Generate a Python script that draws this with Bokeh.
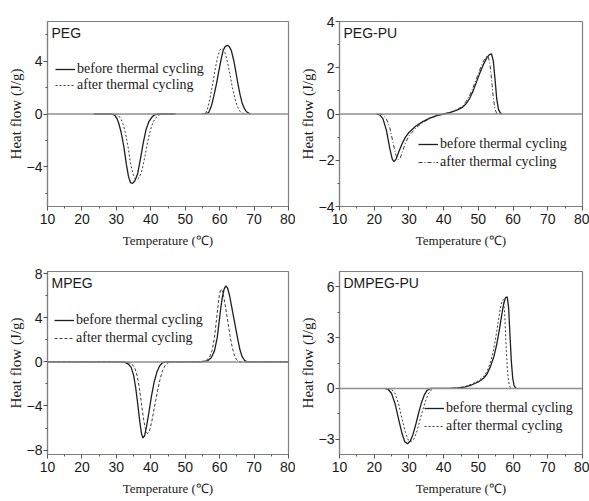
from bokeh.plotting import figure
from bokeh.layouts import column, row
from bokeh.models import (Range1d, SingleIntervalTicker, Span, Label, Legend, LegendItem)
from bokeh.embed import file_html
from bokeh.resources import INLINE

nan = float("nan")

# ---------------- data ----------------
panel_names = ["PEG", "PEG-PU", "MPEG", "DMPEG-PU"]
series_labels = ["before thermal cycling", "after thermal cycling"]
x_label = "Temperature (\u2103)"
y_label = "Heat flow (J/g)"

peg_before_T = [23.5, 28.5, 29.5, 30.2, 30.8, 31.4, 32.2, 32.9, 33.5, 34.1, 34.7, 35.4, 36.2, 37.0, 37.8,
                38.6, 39.4, 40.3, 41.0, 41.8, 47.0, nan,
                55.5, 56.8, 57.6, 58.3, 59.1, 59.8, 60.4, 61.0, 61.6, 62.2, 62.8, 63.4, 64.1, 64.7,
                65.3, 65.9, 66.5, 67.2, 67.8, 68.9]
peg_before_H = [0, 0, -0.08, -0.35, -0.8, -1.4, -2.5, -3.8, -4.7, -5.2, -5.25, -5.05, -4.5, -3.4, -2.2,
                -1.2, -0.6, -0.25, -0.08, 0, 0, nan,
                0, 0.1, 0.6, 1.35, 2.3, 3.3, 4.1, 4.8, 5.1, 5.2, 5.1, 4.8, 4.05, 3.2,
                2.3, 1.5, 0.86, 0.4, 0.17, 0]
peg_after_T = [24.0, 29.5, 30.5, 31.3, 32.0, 32.6, 33.4, 34.1, 34.8, 35.4, 36.0, 36.7, 37.5, 38.3, 39.1,
               39.9, 40.7, 41.6, 42.4, 43.2, 47.5, nan,
               54.8, 56.0, 56.6, 57.2, 58.0, 58.7, 59.4, 60.0, 60.5, 61.0, 61.6, 62.3, 63.0, 63.7,
               64.4, 65.1, 65.9, 66.7, 67.6]
peg_after_H = [0, 0, -0.08, -0.35, -0.8, -1.4, -2.5, -3.7, -4.5, -4.9, -4.95, -4.8, -4.2, -3.2, -2.1,
               -1.2, -0.6, -0.25, -0.07, 0, 0, nan,
               0, 0.1, 0.5, 1.2, 2.3, 3.4, 4.3, 4.8, 4.95, 4.9, 4.6, 3.9, 3.0, 2.0,
               1.2, 0.6, 0.2, 0.05, 0]

pegpu_before_T = [20.7, 21.5, 22.5, 23.5, 24.5, 25.2, 25.7, 26.3, 27.0, 28.0, 29.0, 30.0, 32.0, 34.0, 36.0,
                  38.0, 40.0, 42.0, 44.0, 45.5, 46.5, 47.5, 48.5, 49.5, 50.5, 51.5, 52.5, 53.2, 53.8,
                  54.3, 54.8, 55.3, 55.8, 56.3, 56.8]
pegpu_before_H = [0, -0.03, -0.2, -0.7, -1.5, -1.95, -2.06, -1.95, -1.67, -1.3, -1.0, -0.8, -0.52, -0.33, -0.18,
                  -0.07, 0.0, 0.07, 0.18, 0.3, 0.45, 0.68, 1.0, 1.4, 1.8, 2.15, 2.45, 2.57, 2.6,
                  2.3, 1.5, 0.65, 0.2, 0.05, 0]
pegpu_after_T = [21.5, 22.5, 23.5, 24.5, 25.5, 26.3, 26.9, 27.5, 28.2, 29.0, 30.0, 32.0, 34.0, 36.0, 38.0,
                 40.0, 42.0, 44.0, 45.5, 46.5, 47.5, 48.5, 49.5, 50.5, 51.5, 52.3, 52.8, 53.3, 53.8,
                 54.3, 54.8, 55.3, 55.8]
pegpu_after_H = [0, -0.03, -0.2, -0.6, -1.3, -1.8, -1.97, -1.9, -1.6, -1.25, -0.95, -0.6, -0.37, -0.2, -0.08,
                 0.0, 0.08, 0.2, 0.35, 0.55, 0.82, 1.15, 1.55, 1.95, 2.3, 2.48, 2.5, 2.2, 1.5,
                 0.7, 0.2, 0.03, 0]

mpeg_before_T = [10.0, 31.0, 32.5, 33.5, 34.3, 35.0, 35.6, 36.2, 36.8, 37.3, 37.7, 38.2, 38.8, 39.5, 40.2,
                 41.0, 41.8, 42.6, 43.4, 44.3,
                 54.5, 56.5, 57.5, 58.5, 59.3, 59.8, 60.3, 60.8, 61.3, 61.8, 62.3, 62.9, 63.5, 64.1,
                 64.7, 65.3, 65.9, 66.5, 67.2, 68.0, 80.0]
mpeg_before_H = [0, 0, -0.05, -0.2, -0.5, -1.2, -2.3, -3.8, -5.4, -6.5, -6.9, -6.7, -5.8, -4.5, -3.1,
                 -1.8, -0.9, -0.35, -0.08, 0,
                 0, 0.1, 0.35, 1.0, 2.2, 3.5, 4.8, 5.9, 6.6, 6.9, 6.7, 6.0, 5.0, 4.0,
                 3.0, 2.0, 1.1, 0.5, 0.15, 0, 0]
mpeg_after_T = [10.0, 32.0, 33.5, 34.5, 35.3, 36.0, 36.7, 37.3, 37.9, 38.5, 39.0, 39.6, 40.3, 41.0, 41.8,
                42.6, 43.4, 44.2, 45.0, 45.8,
                54.0, 56.0, 57.0, 57.8, 58.5, 59.0, 59.5, 59.9, 60.3, 60.7, 61.2, 61.8, 62.4, 63.0,
                63.6, 64.2, 64.8, 65.5, 66.2, 80.0]
mpeg_after_H = [0, 0, -0.05, -0.2, -0.5, -1.2, -2.4, -3.8, -5.2, -6.2, -6.5, -6.3, -5.4, -4.2, -2.9,
                -1.7, -0.8, -0.3, -0.08, 0,
                0, 0.1, 0.4, 1.0, 2.2, 3.6, 5.0, 6.0, 6.6, 6.5, 5.9, 4.8, 3.6, 2.4,
                1.4, 0.7, 0.25, 0.05, 0, 0]

dmpeg_before_T = [23.0, 24.0, 25.0, 26.0, 27.0, 28.0, 28.8, 29.6, 30.4, 31.2, 32.0, 32.8, 33.6, 34.4, 35.2,
                  36.2, 41.5, 44.0, 46.0, 48.0, 50.0, 51.5, 52.5, 53.5, 54.5, 55.3, 56.0, 56.7, 57.3,
                  57.8, 58.3, 58.7, 59.1, 59.5, 59.9, 60.3, 60.9]
dmpeg_before_H = [0, -0.05, -0.3, -0.9, -1.8, -2.65, -3.15, -3.27, -3.1, -2.7, -2.1, -1.45, -0.85, -0.4, -0.12,
                  0, 0, 0.03, 0.08, 0.2, 0.38, 0.6, 0.85, 1.3, 1.9, 2.6, 3.4, 4.3, 5.0,
                  5.35, 5.4, 4.8, 3.2, 1.6, 0.6, 0.15, 0]
dmpeg_after_T = [24.0, 25.0, 26.0, 27.0, 28.0, 29.0, 29.8, 30.6, 31.4, 32.2, 33.0, 33.8, 34.6, 35.4, 36.2,
                 37.2, 42.0, 44.0, 46.0, 48.0, 50.0, 51.5, 52.5, 53.5, 54.3, 55.0, 55.7, 56.3, 56.8,
                 57.2, 57.6, 57.9, 58.3, 58.7, 59.1, 59.6]
dmpeg_after_H = [0, -0.05, -0.3, -0.9, -1.8, -2.6, -3.05, -3.15, -3.0, -2.6, -2.0, -1.4, -0.85, -0.4, -0.13,
                 0, 0, 0.04, 0.1, 0.25, 0.45, 0.7, 1.0, 1.55, 2.2, 3.0, 3.9, 4.7, 5.15,
                 5.25, 4.4, 2.9, 1.3, 0.4, 0.08, 0]

x_range = (10, 80)
y_ranges = [(-7, 7), (-4, 4), (-8.4, 8.2), (-3.9, 6.9)]
y_intervals = [4, 2, 4, 3]

# ---------------- styling ----------------
SANS = "Liberation Sans"
SERIF = "Liberation Serif"
FRAME = "#808080"


def make_panel(idx, bT, bH, aT, aH, size, borders, legend_loc, legend_spacing, dash):
    w, h = size
    bl, br, bt, bb = borders
    p = figure(width=w, height=h, output_backend="svg", toolbar_location=None,
               x_range=Range1d(*x_range), y_range=Range1d(*y_ranges[idx]),
               min_border_left=bl, min_border_right=br, min_border_top=bt, min_border_bottom=bb)
    p.background_fill_color = "white"
    p.border_fill_color = "white"
    p.outline_line_color = FRAME
    p.outline_line_width = 1.2
    p.xgrid.visible = False
    p.ygrid.visible = False

    p.xaxis.ticker = SingleIntervalTicker(interval=10, num_minor_ticks=2)
    p.yaxis.ticker = SingleIntervalTicker(interval=y_intervals[idx], num_minor_ticks=2)
    for ax in (p.xaxis, p.yaxis):
        ax.axis_line_color = FRAME
        ax.axis_line_width = 1.2
        ax.major_tick_line_color = "#555555"
        ax.minor_tick_line_color = "#555555"
        ax.major_tick_out = 4
        ax.major_tick_in = 0
        ax.minor_tick_out = 2
        ax.minor_tick_in = 0
        ax.major_label_text_font = SANS
        ax.major_label_text_font_size = "14px"
        ax.major_label_text_color = "#1a1a1a"
        ax.axis_label_text_font = SERIF
        ax.axis_label_text_font_style = "normal"
        ax.axis_label_text_color = "#1a1a1a"
    p.xaxis.major_label_standoff = 3
    p.xaxis.axis_label_standoff = 6
    p.yaxis.major_label_standoff = 1
    p.yaxis.axis_label_standoff = 0
    p.xaxis.axis_label = x_label
    p.xaxis.axis_label_text_font_size = "13px"
    p.yaxis.axis_label = y_label
    p.yaxis.axis_label_text_font_size = "15px"

    p.add_layout(Span(location=0, dimension="width", line_color="#8f8f8f", line_width=1.5))

    r1 = p.line(bT, bH, line_color="#1e1e1e", line_width=1.3)
    r2 = p.line(aT, aH, line_color="#3c3c3c", line_width=1.0, line_dash=dash)

    leg = Legend(items=[LegendItem(label=series_labels[0], renderers=[r1]),
                        LegendItem(label=series_labels[1], renderers=[r2])],
                 location=legend_loc, orientation="vertical",
                 background_fill_alpha=0, border_line_alpha=0,
                 label_text_font=SERIF, label_text_font_size="14px", label_text_color="#1a1a1a",
                 glyph_width=20, glyph_height=16, label_height=16, spacing=legend_spacing,
                 padding=0, margin=0, label_standoff=2)
    p.add_layout(leg)

    p.add_layout(Label(x=x_range[0], y=y_ranges[idx][1], text=panel_names[idx],
                       x_offset=4, y_offset=-3, text_baseline="top", text_align="left",
                       text_font=SANS, text_font_size="14px", text_color="#1a1a1a"))
    return p


p1 = make_panel(0, peg_before_T, peg_before_H, peg_after_T, peg_after_H,
                (295, 250), (47, 7, 21, 41), (8, 113), 0, "2 2")
p2 = make_panel(1, pegpu_before_T, pegpu_before_H, pegpu_after_T, pegpu_after_H,
                (294, 250), (44, 7, 21, 43), (79, 36), 2, "4 2 1 2")
p3 = make_panel(2, mpeg_before_T, mpeg_before_H, mpeg_after_T, mpeg_after_H,
                (295, 251), (47, 7, 21, 47), (7, 108), 2, "3 2")
p4 = make_panel(3, dmpeg_before_T, dmpeg_before_H, dmpeg_after_T, dmpeg_after_H,
                (294, 251), (44, 7, 21, 47), (85, 20), 2, "2 2")

layout = column(row(p1, p2), row(p3, p4))

open("out.html", "w").write(file_html(layout, INLINE))
